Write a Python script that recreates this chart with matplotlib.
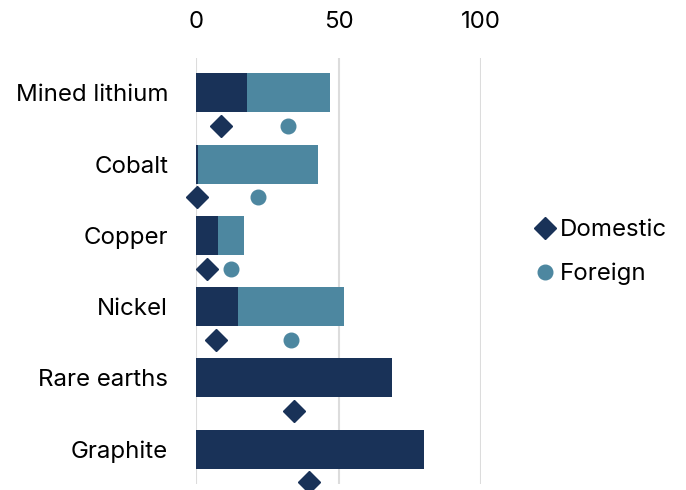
import numpy as np
import matplotlib
matplotlib.use('Agg')
import matplotlib.pyplot as plt
from matplotlib.lines import Line2D

plt.rcParams['font.family'] = ['Inter', 'DejaVu Sans']

minerals = ['Mined lithium', 'Cobalt', 'Copper', 'Nickel', 'Rare earths', 'Graphite']
bar_domestic = [18, 0.6, 7.7, 14.7, 68.8, 80]
bar_foreign = [29, 42.1, 9.1, 37.3, 0, 0]
dot_domestic = [8.8, 0.5, 3.7, 6.9, 34.3, 39.8]
dot_foreign = [32.4, 21.6, 12.3, 33.3, None, None]

NAVY = '#193258'
TEAL = '#4d87a0'
GRID = '#dcdcdc'
FS = 17.3

fig = plt.figure(figsize=(6.86, 4.9), dpi=100)
ax = fig.add_axes([196 / 686, 1 - 484 / 490, 285 / 686, 426 / 490])

y = np.arange(len(minerals))
off = 0.465
ax.barh(y, bar_domestic, height=0.55, color=NAVY, zorder=2)
ax.barh(y, bar_foreign, left=bar_domestic, height=0.55, color=TEAL, zorder=2)

# marker rows sit just under each bar
ax.plot(dot_domestic, y + off, ls='none', marker='D', ms=11, color=NAVY, zorder=3, clip_on=False)
fy = [yy + off for yy, v in zip(y, dot_foreign) if v is not None]
fx = [v for v in dot_foreign if v is not None]
ax.plot(fx, fy, ls='none', marker='o', ms=10.5, color=TEAL, zorder=3, clip_on=False)

ax.set_xlim(0, 100)
ax.set_ylim(5.49, -0.49)
ax.set_xticks([0, 50, 100])
ax.xaxis.tick_top()
ax.tick_params(axis='x', length=0, pad=18, labelsize=FS)
ax.set_yticks(y)
ax.set_yticklabels(minerals)
ax.tick_params(axis='y', length=0, pad=20, labelsize=FS)
ax.grid(axis='x', color=GRID, lw=1.5, zorder=0)
ax.set_axisbelow(True)
for s in ax.spines.values():
    s.set_visible(False)

handles = [
    Line2D([], [], ls='none', marker='D', ms=11, color=NAVY),
    Line2D([], [], ls='none', marker='o', ms=10.5, color=TEAL),
]
fig.legend(handles, ['Domestic', 'Foreign'], loc='center left',
           bbox_to_anchor=(538 / 686, 1 - 252 / 490), frameon=False,
           fontsize=FS, handlelength=0.6, handletextpad=0.3, labelspacing=0.9,
           borderaxespad=0, borderpad=0)

fig.savefig('out.png', dpi=100, facecolor='white')
